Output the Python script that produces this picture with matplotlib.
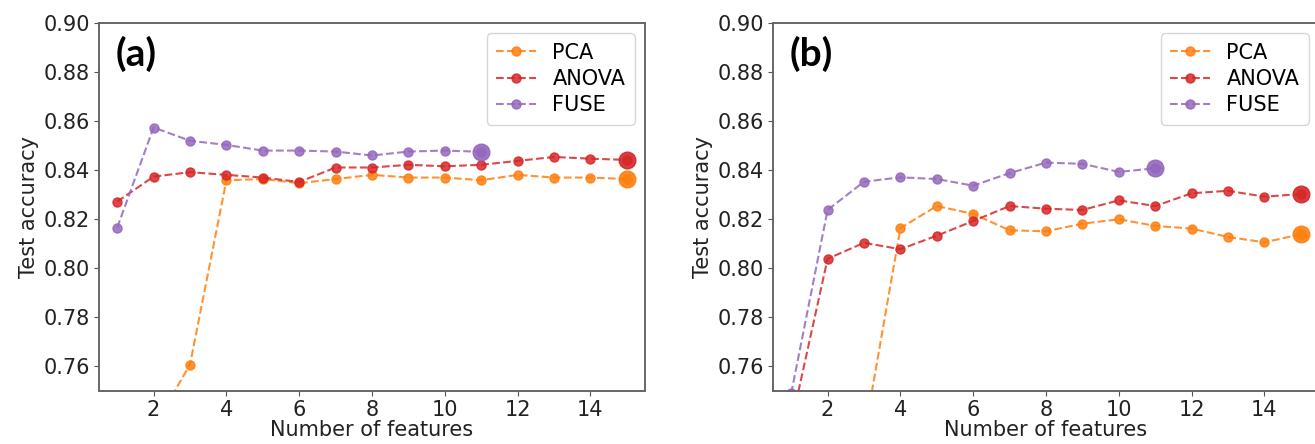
import numpy as np
import matplotlib.pyplot as plt

n_features = np.arange(1, 16)

# panel (a)
pca_a = [0.700, 0.735, 0.7608, 0.8359, 0.8364, 0.8347, 0.8364, 0.8381,
         0.8370, 0.8370, 0.8359, 0.8381, 0.8370, 0.8370, 0.8364]
anova_a = [0.8272, 0.8374, 0.8392, 0.8381, 0.8370, 0.8352, 0.8411, 0.8411,
           0.8422, 0.8416, 0.8422, 0.8438, 0.8454, 0.8447, 0.8442]
fuse_a = [0.8166, 0.8574, 0.8520, 0.8503, 0.8480, 0.8480, 0.8476, 0.8460,
          0.8476, 0.8480, 0.8475]

# panel (b)
pca_b = [0.690, 0.710, 0.7313, 0.8164, 0.8254, 0.8222, 0.8155, 0.8151,
         0.8182, 0.8200, 0.8173, 0.8162, 0.8128, 0.8106, 0.8139]
anova_b = [0.7365, 0.8039, 0.8104, 0.8078, 0.8133, 0.8193, 0.8254, 0.8243,
           0.8238, 0.8277, 0.8254, 0.8306, 0.8316, 0.8292, 0.8303]
fuse_b = [0.7490, 0.8238, 0.8353, 0.8371, 0.8364, 0.8337, 0.8388, 0.8431,
          0.8426, 0.8393, 0.8408]

methods = ["PCA", "ANOVA", "FUSE"]
colors = ["tab:orange", "tab:red", "tab:purple"]
yticks = [0.76, 0.78, 0.80, 0.82, 0.84, 0.86, 0.88, 0.90]

fig = plt.figure(figsize=(13.15, 4.44), dpi=100)
W, H = 1315, 444
ax1 = fig.add_axes([99 / W, 1 - 391 / H, 546 / W, 368 / H])
ax2 = fig.add_axes([773 / W, 1 - 391 / H, 546 / W, 368 / H])


def plot_panel(ax, series, tag):
    for name, vals, c in zip(methods, series, colors):
        x = n_features[:len(vals)]
        ax.plot(x, vals, "--o", color=c, lw=1.5, ms=6.5, alpha=0.85,
                label=name)
        # last point drawn bigger
        ax.plot(x[-1], vals[-1], "o", color=c, ms=12, alpha=0.9)
    ax.set_xlim(0.5, 15.5)
    ax.set_ylim(0.75, 0.90)
    ax.set_xticks(range(2, 15, 2))
    ax.set_yticks(yticks)
    ax.set_yticklabels([f"{t:.2f}" for t in yticks])
    ax.tick_params(labelsize=15, color="#555555", labelcolor="#222222",
                   pad=3)
    for s in ax.spines.values():
        s.set_color("#666666")
        s.set_linewidth(1.4)
    ax.set_xlabel("Number of features", fontsize=15, color="#222222",
                  labelpad=0)
    ax.set_ylabel("Test accuracy", fontsize=15, color="#222222",
                  labelpad=3)
    ax.text(0.03, 0.965, tag, transform=ax.transAxes, fontsize=28,
            fontweight="bold", family="Lato", va="top", ha="left")
    ax.legend(loc="upper right", fontsize=15, handlelength=1.9,
              handletextpad=0.8, borderpad=0.45, labelspacing=0.3)


plot_panel(ax1, [pca_a, anova_a, fuse_a], "(a)")
plot_panel(ax2, [pca_b, anova_b, fuse_b], "(b)")

fig.savefig("out.png", dpi=100)
